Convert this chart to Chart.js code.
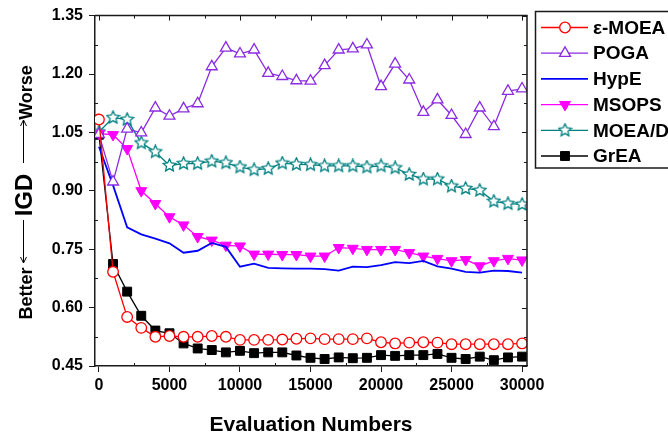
<!DOCTYPE html>
<html>
<head>
<meta charset="utf-8">
<script src="https://cdn.jsdelivr.net/npm/chart.js@4.4.1/dist/chart.umd.min.js"></script>
<style>
    html, body { margin: 0; padding: 0; background: #fff; }
    #chartIgd { display: block; }
</style>
</head>
<body>
<canvas id="chartIgd" width="668" height="436"></canvas>
<script>
// evaluaciones (eje x)
const evaluaciones = [0, 1000, 2000, 3000, 4000, 5000, 6000, 7000, 8000, 9000, 10000,
    11000, 12000, 13000, 14000, 15000, 16000, 17000, 18000, 19000, 20000,
    21000, 22000, 23000, 24000, 25000, 26000, 27000, 28000, 29000, 30000];

// valores IGD
const igdEpsMoea = [1.083, 0.692, 0.576, 0.548, 0.525, 0.527, 0.525, 0.525, 0.527, 0.525, 0.517,
    0.517, 0.517, 0.518, 0.520, 0.521, 0.519, 0.519, 0.519, 0.521, 0.511,
    0.508, 0.510, 0.511, 0.510, 0.506, 0.506, 0.506, 0.506, 0.506, 0.508];
const igdPoga = [1.045, 0.923, 1.059, 1.049, 1.113, 1.092, 1.111, 1.124, 1.219, 1.267, 1.252,
    1.262, 1.202, 1.194, 1.183, 1.182, 1.222, 1.262, 1.265, 1.275, 1.168,
    1.226, 1.185, 1.102, 1.134, 1.094, 1.045, 1.113, 1.065, 1.156, 1.162];
const igdHype = [1.013, 0.914, 0.806, 0.788, 0.777, 0.765, 0.741, 0.746, 0.766, 0.756, 0.705,
    0.713, 0.702, 0.701, 0.700, 0.700, 0.699, 0.695, 0.705, 0.704, 0.709,
    0.717, 0.714, 0.720, 0.706, 0.700, 0.692, 0.690, 0.695, 0.694, 0.690];
const igdMsops = [1.047, 1.044, 1.008, 0.900, 0.867, 0.833, 0.812, 0.782, 0.773, 0.760, 0.758,
    0.737, 0.737, 0.736, 0.736, 0.732, 0.732, 0.754, 0.752, 0.749, 0.749,
    0.749, 0.741, 0.732, 0.726, 0.720, 0.723, 0.707, 0.720, 0.726, 0.722];
const igdMoead = [1.051, 1.088, 1.083, 1.023, 1.000, 0.965, 0.970, 0.970, 0.976, 0.972, 0.961,
    0.954, 0.957, 0.971, 0.968, 0.967, 0.964, 0.964, 0.964, 0.961, 0.964,
    0.959, 0.942, 0.930, 0.930, 0.912, 0.906, 0.901, 0.873, 0.867, 0.865];
const igdGrea = [1.044, 0.712, 0.641, 0.579, 0.541, 0.534, 0.508, 0.495, 0.491, 0.485, 0.489,
    0.483, 0.485, 0.485, 0.477, 0.471, 0.468, 0.472, 0.470, 0.471, 0.478,
    0.476, 0.478, 0.478, 0.481, 0.471, 0.468, 0.474, 0.465, 0.472, 0.474];

// marcas de los ejes
const ticksX = [0, 5000, 10000, 15000, 20000, 25000, 30000];
const ticksXMenores = [2500, 7500, 12500, 17500, 22500, 27500];
const ticksY = [0.45, 0.60, 0.75, 0.90, 1.05, 1.20, 1.35];
const ticksYMenores = [0.525, 0.675, 0.825, 0.975, 1.125, 1.275];

const colorEje = '#1a1a1a';

function puntos(valores) {
    return evaluaciones.map(function (x, i) { return { x: x, y: valores[i] }; });
}

function crearEstrella(color) {
    const c = document.createElement('canvas');
    c.width = 15;
    c.height = 15;
    const g = c.getContext('2d');
    g.beginPath();
    for (let k = 0; k < 10; k++) {
        const r = k % 2 === 0 ? 6.6 : 3.1;
        const a = -Math.PI / 2 + k * Math.PI / 5;
        const px = 7.5 + r * Math.cos(a), py = 7.5 + r * Math.sin(a);
        if (k === 0) g.moveTo(px, py); else g.lineTo(px, py);
    }
    g.closePath();
    g.fillStyle = '#fff';
    g.fill();
    g.lineWidth = 1.3;
    g.strokeStyle = color;
    g.stroke();
    return c;
}

// marco superior/derecho y marcas interiores
const marcoEjes = {
    id: 'marcoEjes',
    afterDraw: function (chart) {
        const ctx = chart.ctx;
        const a = chart.chartArea;
        const sx = chart.scales.x, sy = chart.scales.y;
        ctx.save();
        ctx.strokeStyle = colorEje;
        ctx.lineWidth = 1.5;
        ctx.beginPath();
        ctx.moveTo(a.left, a.top);
        ctx.lineTo(a.right, a.top);
        ctx.lineTo(a.right, a.bottom);
        ctx.stroke();
        ctx.lineWidth = 1;
        ctx.beginPath();
        ticksX.forEach(function (v) {
            const px = Math.round(sx.getPixelForValue(v)) + 0.5;
            ctx.moveTo(px, a.top); ctx.lineTo(px, a.top + 5);
        });
        ticksXMenores.forEach(function (v) {
            const px = Math.round(sx.getPixelForValue(v)) + 0.5;
            ctx.moveTo(px, a.top); ctx.lineTo(px, a.top + 3);
            ctx.moveTo(px, a.bottom); ctx.lineTo(px, a.bottom - 3);
        });
        ticksY.forEach(function (v) {
            const py = Math.round(sy.getPixelForValue(v)) + 0.5;
            ctx.moveTo(a.right, py); ctx.lineTo(a.right - 5, py);
        });
        ticksYMenores.forEach(function (v) {
            const py = Math.round(sy.getPixelForValue(v)) + 0.5;
            ctx.moveTo(a.left, py); ctx.lineTo(a.left + 3, py);
            ctx.moveTo(a.right, py); ctx.lineTo(a.right - 3, py);
        });
        ctx.stroke();
        ctx.restore();
    }
};

// titulo del eje y: Better <-- IGD --> Worse
function flecha(ctx, x, y0, y1) {
    const d = y1 > y0 ? 1 : -1;
    ctx.beginPath();
    ctx.moveTo(x, y0);
    ctx.lineTo(x, y1);
    ctx.moveTo(x - 3, y1 - d * 6);
    ctx.lineTo(x, y1);
    ctx.lineTo(x + 3, y1 - d * 6);
    ctx.stroke();
}

const tituloY = {
    id: 'tituloY',
    afterDraw: function (chart) {
        const ctx = chart.ctx;
        ctx.save();
        ctx.fillStyle = '#000';
        ctx.strokeStyle = '#000';
        ctx.lineWidth = 1;
        ctx.translate(32, 0);
        ctx.rotate(-Math.PI / 2);
        ctx.textAlign = 'center';
        ctx.textBaseline = 'alphabetic';
        ctx.font = 'bold 18px "Liberation Sans", Arial, sans-serif';
        ctx.fillText('Worse', -92.5, 0);
        ctx.fillText('Better', -293.5, 0);
        ctx.font = 'bold 24px "Liberation Sans", Arial, sans-serif';
        ctx.fillText('IGD', -195, 0);
        ctx.restore();
        ctx.save();
        ctx.strokeStyle = '#000';
        ctx.lineWidth = 1;
        flecha(ctx, 23.5, 163, 120);
        flecha(ctx, 23.5, 220, 263);
        ctx.restore();
    }
};

// leyenda con recuadro a la derecha
const leyenda = {
    id: 'leyenda',
    afterDraw: function (chart) {
        const ctx = chart.ctx;
        ctx.save();
        ctx.strokeStyle = colorEje;
        ctx.lineWidth = 1.5;
        ctx.strokeRect(535.5, 11.5, 150, 156.5);
        chart.data.datasets.forEach(function (ds, i) {
            const y = 27.5 + i * 25.7;
            ctx.strokeStyle = ds.borderColor;
            ctx.lineWidth = ds.borderWidth;
            ctx.beginPath();
            ctx.moveTo(541, y);
            ctx.lineTo(588, y);
            ctx.stroke();
            if (ds.pointRadius > 0) {
                ctx.fillStyle = ds.pointBackgroundColor;
                ctx.strokeStyle = ds.borderColor;
                ctx.lineWidth = ds.pointBorderWidth;
                Chart.helpers.drawPoint(ctx, {
                    pointStyle: ds.pointStyle,
                    radius: ds.pointRadius,
                    rotation: ds.pointRotation || 0,
                    borderWidth: ds.pointBorderWidth
                }, 565, y);
            }
            ctx.fillStyle = '#000';
            ctx.font = 'bold 19px "Liberation Sans", Arial, sans-serif';
            ctx.textAlign = 'left';
            ctx.textBaseline = 'middle';
            ctx.fillText(ds.label, 593, y + 1);
        });
        ctx.restore();
    }
};

const fuenteTicks = { family: '"Liberation Sans", Arial, sans-serif', size: 16, weight: 'bold' };

new Chart(document.getElementById('chartIgd').getContext('2d'), {
    type: 'line',
    data: {
        datasets: [{
            label: 'ε-MOEA',
            data: puntos(igdEpsMoea),
            borderColor: '#ff0000',
            borderWidth: 1.3,
            pointStyle: 'circle',
            pointRadius: 5.3,
            pointBorderWidth: 1.3,
            pointBackgroundColor: '#ffffff'
        },
        {
            label: 'POGA',
            data: puntos(igdPoga),
            borderColor: '#8a2be2',
            borderWidth: 1.3,
            pointStyle: 'triangle',
            pointRadius: 6.3,
            pointBorderWidth: 1.3,
            pointBackgroundColor: '#ffffff'
        },
        {
            label: 'HypE',
            data: puntos(igdHype),
            borderColor: '#0000ff',
            borderWidth: 1.8,
            pointStyle: 'line',
            pointRadius: 0,
            pointBorderWidth: 1,
            pointBackgroundColor: '#0000ff'
        },
        {
            label: 'MSOPS',
            data: puntos(igdMsops),
            borderColor: '#ff00ff',
            borderWidth: 1.3,
            pointStyle: 'triangle',
            pointRotation: 180,
            pointRadius: 6.3,
            pointBorderWidth: 1,
            pointBackgroundColor: '#ff00ff'
        },
        {
            label: 'MOEA/D',
            data: puntos(igdMoead),
            borderColor: '#008080',
            borderWidth: 1.3,
            pointStyle: crearEstrella('#008080'),
            pointRadius: 6.5,
            pointBorderWidth: 1.3,
            pointBackgroundColor: '#ffffff'
        },
        {
            label: 'GrEA',
            data: puntos(igdGrea),
            borderColor: '#000000',
            borderWidth: 1.3,
            pointStyle: 'rect',
            pointRadius: 6.3,
            pointBorderWidth: 1,
            pointBackgroundColor: '#000000'
        }]
    },
    options: {
        responsive: false,
        animation: false,
        events: [],
        layout: { padding: { top: 15, right: 141, left: 0, bottom: 0 } },
        elements: { line: { tension: 0 } },
        plugins: {
            legend: { display: false },
            tooltip: { enabled: false }
        },
        scales: {
            x: {
                type: 'linear',
                min: -280,
                max: 30350,
                afterFit: function (scale) { scale.height = 70; },
                afterBuildTicks: function (scale) {
                    scale.ticks = ticksX.map(function (v) { return { value: v }; });
                },
                grid: { drawOnChartArea: false, tickLength: 6, color: colorEje, lineWidth: 1 },
                border: { display: true, color: colorEje, width: 1.5 },
                ticks: {
                    color: '#000',
                    font: fuenteTicks,
                    padding: 4,
                    maxRotation: 0,
                    callback: function (v) { return String(v); }
                },
                title: {
                    display: true,
                    text: 'Evaluation Numbers',
                    color: '#000',
                    font: { family: '"Liberation Sans", Arial, sans-serif', size: 21, weight: 'bold', lineHeight: 1 },
                    padding: { top: 0, bottom: 0 }
                }
            },
            y: {
                min: 0.45,
                max: 1.35,
                afterFit: function (scale) { scale.width = 95; },
                afterBuildTicks: function (scale) {
                    scale.ticks = ticksY.map(function (v) { return { value: v }; });
                },
                grid: { drawOnChartArea: false, tickLength: 6, color: colorEje, lineWidth: 1 },
                border: { display: true, color: colorEje, width: 1.5 },
                ticks: {
                    color: '#000',
                    font: fuenteTicks,
                    padding: 6,
                    callback: function (v) { return Number(v).toFixed(2); }
                }
            }
        }
    },
    plugins: [marcoEjes, tituloY, leyenda]
});
</script>
</body>
</html>
